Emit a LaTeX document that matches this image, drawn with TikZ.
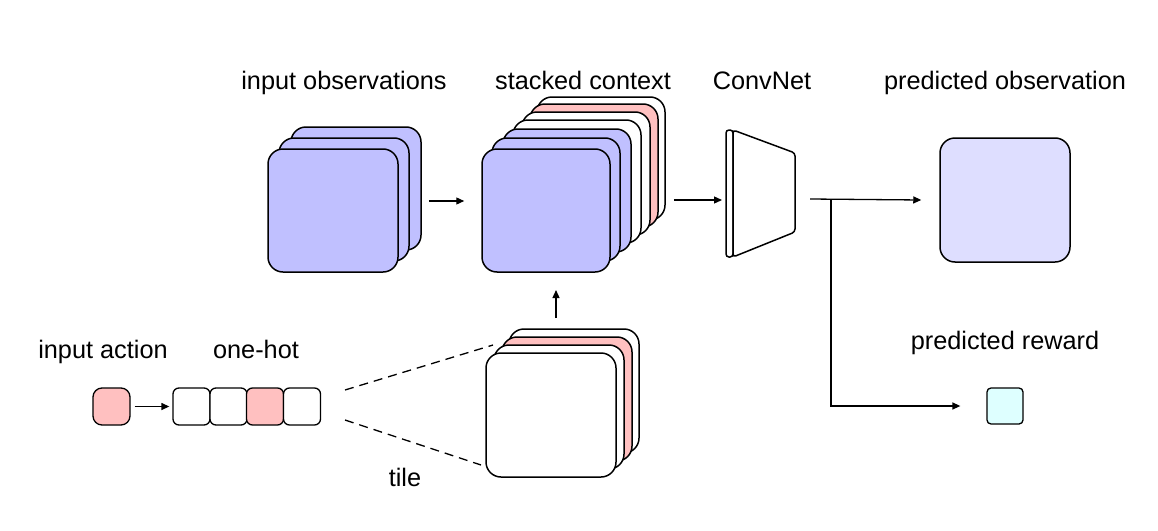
\documentclass[tikz,border=0pt]{standalone}
\usepackage{fontspec}
\setmainfont{Liberation Sans}
\usetikzlibrary{arrows.meta,calc}
\definecolor{obsblue}{RGB}{192,192,255}
\definecolor{predblue}{RGB}{222,222,255}
\definecolor{actpink}{RGB}{255,192,192}
\definecolor{rewcyan}{RGB}{222,255,255}
\begin{document}
\begin{tikzpicture}[x=1pt,y=-1pt,
  card/.style={draw=black, line width=1.5pt, rounded corners=15pt, inner sep=0pt, fill=white},
  obscard/.style={card, fill=obsblue, minimum width=130pt, minimum height=123pt},
  stcard/.style={card, minimum width=128pt, minimum height=123pt},
  tilecard/.style={card, minimum width=130pt, minimum height=124pt},
  cell/.style={draw=black, line width=1.3pt, rounded corners=6pt, inner sep=0pt, minimum width=37pt, minimum height=37pt, fill=white},
  arr/.style={line width=1.3pt, -{Triangle[length=8pt,width=7pt]}},
  dashline/.style={line width=1.3pt, dash pattern=on 9pt off 6pt},
  lbl/.style={font=\fontsize{25.3}{30}\selectfont, anchor=base, inner sep=0pt}]
\useasboundingbox (0,0) rectangle (1158,530);

% labels
\node[lbl] (l1) at (344,89) {input observations};
\node[lbl] (l2) at (583,89) {stacked context};
\node[lbl] (l3) at (762,89) {ConvNet};
\node[lbl] (l4) at (1005,89) {predicted observation};
\node[lbl] (l5) at (1005,349) {predicted reward};
\node[lbl] (l6) at (103,358) {input action};
\node[lbl] (l7) at (256,358) {one-hot};
\node[lbl] (l8) at (405,486) {tile};

% input observations
\node[obscard] (o3) at (356,188.5) {};
\node[obscard] (o2) at (344,199.5) {};
\node[obscard] (o1) at (333,210.5) {};

% stacked context
\node[stcard] (s7) at (601,158.5) {};
\node[stcard, fill=actpink] (s6) at (594,165.5) {};
\node[stcard] (s5) at (586,173.5) {};
\node[stcard] (s4) at (577,181.5) {};
\node[stcard, fill=obsblue] (s3) at (567,190.5) {};
\node[stcard, fill=obsblue] (s2) at (556,199.5) {};
\node[stcard, fill=obsblue] (s1) at (546,210.5) {};

% tile stack
\node[tilecard] (t4) at (574,391) {};
\node[tilecard, fill=actpink] (t3) at (567,399) {};
\node[tilecard] (t2) at (559,407) {};
\node[tilecard] (t1) at (551,415) {};

% ConvNet
\node[draw=black, line width=1.5pt, rounded corners=3pt, minimum width=7pt, minimum height=127pt, inner sep=0pt, fill=white] (cn1) at (729.5,193.5) {};
\draw[line width=1.5pt, rounded corners=3pt, fill=white] (733,130) -- (795,153) -- (795,232) -- (733,257) -- cycle;
\coordinate (cnin) at (722,200);
\coordinate (cnout) at (810,199);

% predicted observation and reward
\node[card, fill=predblue, minimum width=130pt, minimum height=124pt] (po) at (1005,200) {};
\node[draw=black, line width=1.3pt, rounded corners=4pt, inner sep=0pt, minimum width=36pt, minimum height=36pt, fill=rewcyan] (pr) at (1005,406) {};

% input action and one-hot
\node[cell, rounded corners=9pt, fill=actpink] (ia) at (111.5,406.5) {};
\node[cell] (h1) at (191.5,406.5) {};
\node[cell] (h2) at (228.5,406.5) {};
\node[cell, fill=actpink] (h3) at (265,406.5) {};
\node[cell] (h4) at (302,406.5) {};

% connectors
\draw[arr] ([xshift=30pt]o1.east |- 0,201) -- ([xshift=-17pt]s1.west |- 0,201);
\draw[arr] ([xshift=63pt]s1.east |- 0,200) -- (cnin);
\draw[arr] (cnout) -- ([xshift=-18pt]po.west);
\coordinate (br) at (831,199);
\draw[arr] (br) |- ([xshift=-26pt]pr.west);
\draw[arr] ([xshift=4pt]ia.east) -- ([xshift=-3pt]h1.west);
\coordinate (tup0) at (556,318);
\coordinate (tup1) at (556,290);
\draw[arr] (tup0) -- (tup1);
\coordinate (d1a) at (345,390);
\coordinate (d1b) at (493,345);
\coordinate (d2a) at (345,420);
\coordinate (d2b) at (481,465);
\draw[dashline] (d1a) -- (d1b);
\draw[dashline] (d2a) -- (d2b);
\end{tikzpicture}
\end{document}
